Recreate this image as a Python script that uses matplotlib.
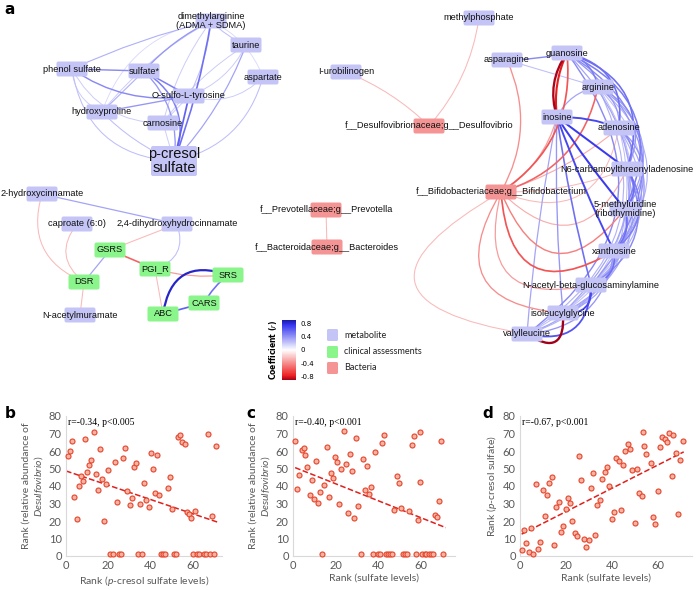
import numpy as np
import matplotlib
matplotlib.use('Agg')
import matplotlib.pyplot as plt
from matplotlib.patches import FancyArrowPatch, FancyBboxPatch
from matplotlib.colors import LinearSegmentedColormap, Normalize
from matplotlib.cm import ScalarMappable

plt.rcParams['mathtext.fontset'] = 'custom'
plt.rcParams['mathtext.rm'] = 'Lato'
plt.rcParams['mathtext.it'] = 'Lato:italic'

# ---------------- network data (panel a) ----------------
node_names = ['dma', 'taurine', 'phenol', 'sulfate', 'aspartate', 'osulfo', 'hydroxyproline',
              'carnosine', 'pcresol',
              'methylphosphate', 'urobilinogen', 'desulfo',
              'prevotella', 'bacteroides',
              'hydroxycinn', 'caproate', 'dihydroxy', 'GSRS', 'PGI_R', 'SRS', 'DSR', 'CARS', 'ABC',
              'acetylmuramate',
              'asparagine', 'guanosine', 'arginine', 'inosine', 'adenosine', 'n6', 'bifido',
              'methyluridine', 'xanthosine', 'acetylglucos', 'isoleucylglycine', 'valylleucine']
node_labels = ['dimethylarginine\n(ADMA + SDMA)', 'taurine', 'phenol sulfate', 'sulfate*', 'aspartate',
               'O-sulfo-L-tyrosine', 'hydroxyproline', 'carnosine', 'p-cresol\nsulfate',
               'methylphosphate', 'I-urobilinogen', 'f__Desulfovibrionaceae;g__Desulfovibrio',
               'f__Prevotellaceae;g__Prevotella', 'f__Bacteroidaceae;g__Bacteroides',
               '2-hydroxycinnamate', 'caproate (6:0)', '2,4-dihydroxyhydrocinnamate', 'GSRS', 'PGI_R',
               'SRS', 'DSR', 'CARS', 'ABC', 'N-acetylmuramate',
               'asparagine', 'guanosine', 'arginine', 'inosine', 'adenosine',
               'N6-carbamoylthreonyladenosine', 'f__Bifidobacteriaceae;g__Bifidobacterium',
               '5-methyluridine\n(ribothymidine)', 'xanthosine', 'N-acetyl-beta-glucosaminylamine',
               'isoleucylglycine', 'valylleucine']
node_x = [211, 246, 72, 144, 263, 189, 102, 163, 174,
          479, 346, 429,
          326, 327,
          42, 77, 177, 110, 155, 228, 84, 204, 163, 80,
          507, 567, 598, 557, 619, 627, 501, 625, 614, 591, 563, 527]
node_y = [21, 45, 69, 71, 77, 96, 112, 123, 161,
          18, 72, 126,
          210, 247,
          194, 224, 224, 250, 269, 275, 282, 303, 314, 315,
          60, 53, 87, 117, 128, 169, 192, 209, 251, 285, 313, 334]
node_kind = ['m'] * 9 + ['m', 'm', 'b'] + ['b', 'b'] + ['m', 'm', 'm', 'c', 'c', 'c', 'c', 'c', 'c', 'm'] + \
            ['m'] * 6 + ['b'] + ['m'] * 5

# edges: (node A, node B, coefficient r, curvature)
edges = [
    # p-cresol sulfate module
    ('dma', 'phenol', 0.3, 0.05), ('dma', 'sulfate', 0.4, 0.1), ('dma', 'hydroxyproline', 0.2, 0.1),
    ('dma', 'osulfo', 0.25, -0.1), ('dma', 'pcresol', 0.55, -0.05), ('dma', 'carnosine', 0.2, 0.1),
    ('dma', 'taurine', 0.25, 0.1), ('dma', 'aspartate', 0.15, -0.2),
    ('phenol', 'sulfate', 0.45, 0.0), ('phenol', 'osulfo', 0.45, 0.2), ('phenol', 'pcresol', 0.25, 0.4),
    ('phenol', 'hydroxyproline', 0.2, 0.3), ('phenol', 'carnosine', 0.2, 0.3),
    ('sulfate', 'osulfo', 0.5, 0.0), ('sulfate', 'pcresol', 0.5, -0.4), ('sulfate', 'pcresol', 0.4, -0.25),
    ('sulfate', 'hydroxyproline', 0.3, 0.0), ('osulfo', 'pcresol', 0.6, 0.0),
    ('osulfo', 'hydroxyproline', 0.4, 0.0), ('osulfo', 'aspartate', 0.2, 0.3),
    ('taurine', 'pcresol', 0.35, -0.1), ('taurine', 'osulfo', 0.2, -0.2), ('taurine', 'carnosine', 0.2, 0.1),
    ('aspartate', 'pcresol', 0.25, -0.3), ('hydroxyproline', 'pcresol', 0.25, 0.1),
    ('carnosine', 'pcresol', 0.2, 0.0), ('carnosine', 'osulfo', 0.2, 0.0), ('hydroxyproline', 'dma', 0.15, -0.3),
    # Desulfovibrio module
    ('urobilinogen', 'desulfo', -0.25, -0.1), ('methylphosphate', 'desulfo', -0.25, -0.15),
    # Prevotella / Bacteroides
    ('prevotella', 'bacteroides', -0.25, 0.0),
    # clinical module
    ('hydroxycinn', 'dihydroxy', 0.35, 0.0), ('hydroxycinn', 'DSR', -0.25, 0.45),
    ('caproate', 'DSR', -0.25, 0.5), ('dihydroxy', 'GSRS', -0.25, 0.0), ('dihydroxy', 'PGI_R', 0.25, -0.5),
    ('GSRS', 'DSR', 0.35, 0.0), ('GSRS', 'PGI_R', -0.55, 0.0), ('PGI_R', 'SRS', -0.35, 0.1),
    ('PGI_R', 'ABC', -0.25, 0.0), ('ABC', 'CARS', 0.6, 0.0), ('CARS', 'SRS', 0.55, -0.1),
    ('ABC', 'SRS', 0.85, -0.6), ('DSR', 'acetylmuramate', -0.25, 0.0),
    # Bifidobacterium module - metabolite correlations
    ('guanosine', 'arginine', 0.5, -0.3), ('guanosine', 'adenosine', 0.55, -0.45),
    ('guanosine', 'n6', 0.55, -0.5), ('guanosine', 'methyluridine', 0.5, -0.5),
    ('guanosine', 'xanthosine', 0.45, -0.5), ('guanosine', 'acetylglucos', 0.4, -0.55),
    ('guanosine', 'isoleucylglycine', 0.35, -0.5), ('guanosine', 'valylleucine', 0.45, -0.5),
    ('arginine', 'adenosine', 0.4, -0.3), ('arginine', 'n6', 0.4, -0.5),
    ('arginine', 'methyluridine', 0.35, -0.5), ('arginine', 'xanthosine', 0.3, -0.5),
    ('arginine', 'acetylglucos', 0.25, -0.5), ('arginine', 'isoleucylglycine', 0.25, -0.45),
    ('arginine', 'valylleucine', 0.3, -0.45), ('arginine', 'inosine', 0.35, 0.25),
    ('adenosine', 'n6', 0.45, -0.4), ('adenosine', 'methyluridine', 0.4, -0.5),
    ('adenosine', 'xanthosine', 0.35, -0.45), ('adenosine', 'acetylglucos', 0.3, -0.45),
    ('adenosine', 'isoleucylglycine', 0.25, -0.4), ('adenosine', 'valylleucine', 0.25, -0.4),
    ('inosine', 'adenosine', 0.7, -0.1), ('inosine', 'n6', 0.75, 0.0),
    ('inosine', 'methyluridine', 0.75, 0.03), ('inosine', 'xanthosine', 0.7, 0.03),
    ('inosine', 'acetylglucos', 0.55, 0.03), ('inosine', 'isoleucylglycine', 0.4, 0.03),
    ('inosine', 'valylleucine', 0.35, 0.03),
    ('n6', 'methyluridine', 0.55, -0.4), ('n6', 'xanthosine', 0.5, -0.45),
    ('n6', 'acetylglucos', 0.45, -0.45), ('n6', 'isoleucylglycine', 0.35, -0.4),
    ('n6', 'valylleucine', 0.35, -0.4),
    ('methyluridine', 'xanthosine', 0.55, -0.3), ('methyluridine', 'acetylglucos', 0.35, -0.35),
    ('methyluridine', 'isoleucylglycine', 0.3, -0.35), ('methyluridine', 'valylleucine', 0.3, -0.35),
    ('xanthosine', 'acetylglucos', 0.55, -0.45), ('xanthosine', 'isoleucylglycine', 0.35, -0.35),
    ('xanthosine', 'valylleucine', 0.4, -0.4),
    ('acetylglucos', 'isoleucylglycine', 0.7, -0.6), ('acetylglucos', 'valylleucine', 0.65, -0.6),
    ('asparagine', 'guanosine', 0.45, 0.05), ('asparagine', 'arginine', 0.25, 0.0),
    # Bifidobacterium module - bacteria correlations
    ('bifido', 'asparagine', -0.4, 0.25), ('bifido', 'guanosine', -0.6, 0.3),
    ('bifido', 'arginine', -0.55, 0.3), ('bifido', 'inosine', -0.35, 0.2),
    ('bifido', 'adenosine', -0.3, 0.1), ('bifido', 'n6', -0.25, 0.1),
    ('bifido', 'adenosine', -0.25, 0.6), ('bifido', 'n6', -0.3, 0.7),
    ('bifido', 'methyluridine', -0.45, 0.85), ('bifido', 'xanthosine', -0.6, 0.8),
    ('bifido', 'acetylglucos', -0.35, 0.8), ('bifido', 'isoleucylglycine', -0.4, 0.8),
    ('bifido', 'valylleucine', -0.25, 1.4),
    ('guanosine', 'inosine', -0.9, 0.25), ('guanosine', 'inosine', -0.8, 0.15),
    ('valylleucine', 'isoleucylglycine', -0.92, 1.0),
]

kind_colors = {'m': '#c4c4f6', 'c': '#8af58a', 'b': '#f59494'}

cmap = LinearSegmentedColormap.from_list(
    'coef', [(0.0, '#a00018'), (0.07, '#ee2020'), (0.5, '#ffffff'), (0.93, '#3030ee'), (1.0, '#1a1aa0')])
norm = Normalize(-0.92, 0.92)

# ---------------- scatter data (panels b-d) ----------------
b_x = [1, 2, 3, 4, 5, 6, 7, 8, 9, 10, 11, 12, 13, 14, 15, 16, 17, 18, 19, 20, 21, 22, 23, 24, 25, 26,
       27, 28, 29, 30, 31, 32, 33, 34, 35, 36, 37, 38, 39, 40, 41, 42, 43, 44, 45, 46, 47, 48, 49, 50,
       51, 52, 53, 54, 55, 56, 57, 58, 59, 60, 61, 62, 63, 65, 66, 67, 68, 69, 70, 71]
b_y = [57, 60, 66, 34, 21, 40, 46, 43, 67, 48, 52, 55, 71, 47, 38, 61, 44, 20, 41, 49, 1, 1, 54, 31, 1, 1,
       56, 62, 37, 29, 33, 51, 53, 1, 30, 1, 42, 32, 28, 59, 50, 36, 58, 35, 1, 1, 1, 39, 45, 27,
       1, 1, 68, 69, 65, 64, 25, 24, 22, 1, 26, 1, 1, 1, 1, 70, 1, 23, 1, 63]
b_fit = ([0, 71.5], [48.6, 19.4])

c_x = [1, 2, 3, 4, 5, 5.6, 6.7, 7.8, 8.8, 9.9, 10.8, 11.7, 12.8, 13.8, 14.7, 15.8, 16.7, 17.8, 18.8,
       19.7, 20.8, 21.8, 22.7, 23.8, 24.7, 25.8, 26.8, 27.7, 28.8, 29.7, 30.7, 31.8, 32.7, 33.6, 34.7,
       35.7, 36.6, 37.7, 38.7, 39.7, 40.7, 41.8, 42.7, 43.7, 44.6, 45.7, 46.6, 47.6, 48.7, 49.6, 50.7,
       51.6, 52.6, 53.7, 54.6, 55.6, 56.8, 57.6, 58.7, 59.6, 59.6, 60.6, 61.7, 62.6, 63.7, 64.6, 65.6,
       66.7, 67.6, 68.5, 69.6, 70.6]
c_y = [66, 38.5, 46.5, 60.5, 61.5, 57.5, 50.7, 34.7, 43.4, 32.4, 54.5, 30.5, 36.4, 1, 40.6, 62.5, 33.5,
       47.6, 44.6, 56.6, 53.5, 29.5, 49.5, 71.5, 52.6, 24.6, 58.5, 48.6, 21.5, 67.5, 28.6, 1, 55.6,
       37.5, 51.6, 35.6, 39.6, 1, 59.6, 1, 1, 64.5, 69.4, 1, 1, 1, 1, 26.5, 45.5, 41.5, 27.4, 1, 1, 1,
       25.5, 63.5, 68.5, 1, 20.6, 70.6, 42.5, 1, 1, 1, 1, 1, 1, 23.6, 22.5, 31.4, 65.5, 1]
c_fit = ([1, 71.7], [50.5, 16.2])

d_x = [0.7, 1.7, 2.8, 3.8, 4.8, 5.8, 6.8, 7.8, 8.9, 9.9, 10.9, 11.8, 12.8, 13.8, 14.8, 15.8, 16.9,
       17.9, 18.9, 19.9, 20.9, 21.9, 22.8, 23.8, 24.9, 25.7, 26.7, 27.8, 28.8, 29.8, 30.8, 31.8, 32.8,
       33.7, 34.7, 35.8, 36.8, 37.8, 38.8, 39.8, 40.8, 41.9, 42.9, 43.9, 44.8, 45.8, 46.8, 47.8, 48.8,
       49.9, 50.9, 51.9, 52.9, 53.5, 53.8, 54.9, 56.8, 57.8, 58.9, 59.9, 60.9, 61.9, 62.9, 63.9, 64.9,
       66.0, 66.7, 67.7, 68.8, 69.6, 70.8]
d_y = [3.2, 15, 7.2, 2.1, 16.1, 1.1, 41.1, 4.2, 8.1, 38, 23.1, 35, 42, 45.1, 6.3, 28, 31.1, 14, 17,
       27.1, 33, 30.1, 20.1, 13.1, 11.2, 57, 43.2, 10, 5.1, 9.1, 39, 47.2, 12.1, 29.2, 32, 44.1, 48.1,
       51.1, 40.2, 21, 25, 56, 54.2, 26.1, 52.1, 60, 64, 61, 49, 19.1, 50, 36, 34.1, 71, 63, 58.1, 53,
       22.2, 18.2, 37.1, 62.1, 68, 67, 65.3, 70.2, 46, 69.1, 58.7, 24, 55.1, 66]
d_fit = ([0.7, 71.2], [12.5, 59.5])

# ---------------- figure ----------------
fig = plt.figure(figsize=(6.96, 5.90), dpi=100)
net = fig.add_axes([0, 0, 1, 1])
net.set_xlim(0, 696)
net.set_ylim(590, 0)
net.axis('off')

pos = {n: (x, y) for n, x, y in zip(node_names, node_x, node_y)}

# weaker edges first so strong ones sit on top
for a, b, r, rad in sorted(edges, key=lambda e: abs(e[2])):
    p = FancyArrowPatch(pos[a], pos[b], arrowstyle='-', connectionstyle=f'arc3,rad={rad}',
                        color=cmap(norm(r)), lw=0.4 + 1.4 * abs(r), shrinkA=0, shrinkB=0, zorder=1)
    net.add_patch(p)

for n, lab, x, y, k in zip(node_names, node_labels, node_x, node_y, node_kind):
    w, h = (46, 30) if n == 'pcresol' else (31, 15)
    net.add_patch(FancyBboxPatch((x - w / 2, y - h / 2), w, h, boxstyle='round,pad=0,rounding_size=2',
                                 fc=kind_colors[k], ec='none', zorder=2))
    fs = 10.5 if n == 'pcresol' else 6.7
    net.text(x, y, lab, ha='center', va='center', fontsize=fs, family='Liberation Sans',
             linespacing=1.0, zorder=3, color='#111111')

net.text(4, 9, 'a', fontsize=11, fontweight='bold', ha='left', va='center')

# legend of node kinds
for lab, k, y in zip(['metabolite', 'clinical assessments', 'Bacteria'], ['m', 'c', 'b'], [335, 352, 368]):
    net.add_patch(FancyBboxPatch((327, y - 6), 11, 12, boxstyle='round,pad=0,rounding_size=1.5',
                                 fc=kind_colors[k], ec='none'))
    net.text(344, y, lab, fontsize=6.5, family='Lato', va='center', ha='left', color='#222222')

# colorbar
cax = fig.add_axes([282 / 696, (590 - 380) / 590, 14 / 696, 60 / 590])
cb = fig.colorbar(ScalarMappable(norm=norm, cmap=cmap), cax=cax, ticks=[0.8, 0.4, 0, -0.4, -0.8])
cb.outline.set_visible(False)
cb.ax.tick_params(length=0, labelsize=5, pad=3)
cb.ax.set_yticklabels(['0.8', '0.4', '0', '-0.4', '-0.8'])
cb.ax.yaxis.set_label_position('left')
cb.set_label('Coefficient ($\\it{r}$)', fontsize=5.5, fontweight='bold', labelpad=2)

# scatter panels
panels = [
    ('b', b_x, b_y, b_fit, 'r=-0.34, p<0.005', 'Rank ($\\it{p}$-cresol sulfate levels)',
     'Rank (relative abundance of\n$\\it{Desulfovibrio}$)', 66, 156, 73.7, 5),
    ('c', c_x, c_y, c_fit, 'r=-0.40, p<0.001', 'Rank (sulfate levels)',
     'Rank (relative abundance of\n$\\it{Desulfovibrio}$)', 293, 162, 76, 246),
    ('d', d_x, d_y, d_fit, 'r=-0.67, p<0.001', 'Rank (sulfate levels)',
     'Rank ($\\it{p}$-cresol sulfate)', 520, 172, 74.8, 482),
]
for letter, xs, ys, fit, stat, xl, yl, left, width, xmax, lx in panels:
    ax = fig.add_axes([left / 696, (590 - 556) / 590, width / 696, 140 / 590])
    ax.scatter(xs, ys, s=13, facecolor='#f9b3a2', edgecolor='#e5442b', linewidth=0.8, zorder=3,
               clip_on=False)
    ax.plot(fit[0], fit[1], linestyle='--', color='#e0201c', lw=1.1, zorder=2)
    ax.set_xlim(0, xmax)
    ax.set_ylim(0, 80)
    ax.set_xticks([0, 20, 40, 60])
    ax.set_yticks(range(0, 81, 10))
    for s in ['top', 'right']:
        ax.spines[s].set_visible(False)
    for s in ['left', 'bottom']:
        ax.spines[s].set_color('#d9d9d9')
        ax.spines[s].set_linewidth(0.8)
    ax.tick_params(length=0, labelsize=8, labelcolor='#595959', pad=3)
    for t in ax.get_xticklabels() + ax.get_yticklabels():
        t.set_family('Lato')
    ax.set_xlabel(xl, fontsize=7.5, color='#595959', family='Lato', labelpad=2)
    ax.set_ylabel(yl, fontsize=7.5, color='#595959', family='Lato', labelpad=3, linespacing=1.1)
    ax.text(0.01, 0.985, stat, transform=ax.transAxes, fontsize=7, family='Liberation Serif',
            va='top', ha='left')
    fig.text(lx / 696, (590 - 413) / 590, letter, fontsize=11, fontweight='bold', va='center', ha='left')

fig.savefig('out.png', dpi=100)
